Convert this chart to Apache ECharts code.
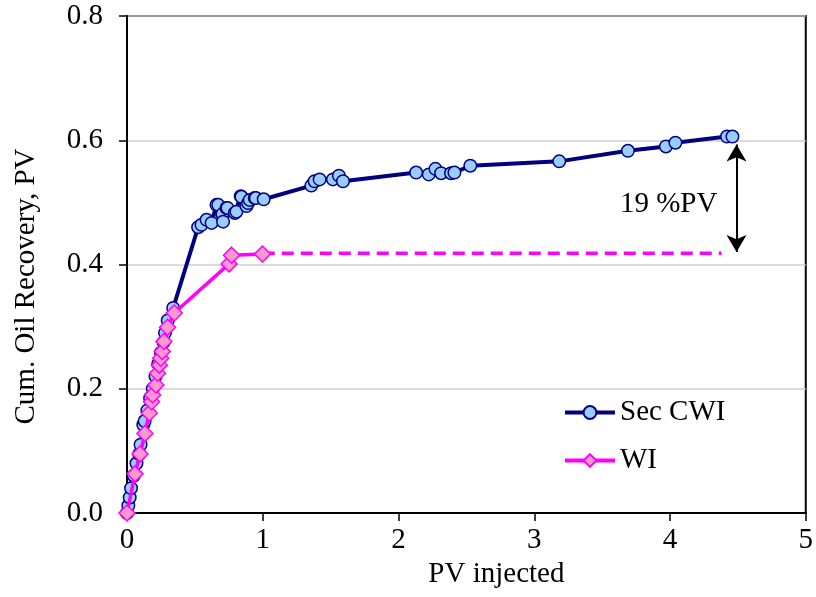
<!DOCTYPE html>
<html>
<head>
<meta charset="utf-8">
<script src="https://cdn.jsdelivr.net/npm/echarts@6/dist/echarts.min.js"></script>
<style>html,body{margin:0;padding:0;background:#fff}#c{width:816px;height:597px}</style>
</head>
<body>
<div id="c"></div>
<script>
const xTicks = [0, 1, 2, 3, 4, 5];
const yTicks = [0.0, 0.2, 0.4, 0.6, 0.8];
const xTitle = 'PV injected';
const yTitle = 'Cum. Oil Recovery, PV';
const seriesNames = ['Sec CWI', 'WI'];
const secCwiX = [0, 0.01, 0.02, 0.03, 0.05, 0.07, 0.09, 0.10, 0.12, 0.13, 0.15, 0.17, 0.19, 0.21, 0.23, 0.25, 0.27, 0.28, 0.30, 0.34,
  0.524, 0.549, 0.586, 0.623, 0.659, 0.672, 0.703, 0.708, 0.733, 0.74, 0.794, 0.806, 0.838, 0.843, 0.88, 0.892, 0.904, 0.941, 0.949, 1.007,
  1.358, 1.382, 1.419, 1.517, 1.561, 1.591,
  2.13, 2.223, 2.272, 2.314, 2.387, 2.412, 2.529, 3.184, 3.69, 3.97, 4.04, 4.42, 4.46];
const secCwiY = [0, 0.012, 0.025, 0.04, 0.06, 0.08, 0.095, 0.11, 0.142, 0.148, 0.165, 0.185, 0.2, 0.22, 0.24, 0.258, 0.275, 0.29, 0.31, 0.33,
  0.460, 0.464, 0.472, 0.467, 0.496, 0.496, 0.481, 0.469, 0.491, 0.491, 0.483, 0.485, 0.510, 0.509, 0.494, 0.499, 0.504, 0.507, 0.507, 0.505,
  0.527, 0.534, 0.537, 0.537, 0.543, 0.534,
  0.548, 0.545, 0.554, 0.547, 0.547, 0.548, 0.559, 0.566, 0.583, 0.590, 0.596, 0.606, 0.606];
const wiX = [0, 0.059, 0.096, 0.132, 0.164, 0.181, 0.189, 0.213, 0.225, 0.238, 0.248, 0.26, 0.272, 0.299, 0.348, 0.752, 0.77, 0.998];
const wiY = [0, 0.063, 0.095, 0.128, 0.161, 0.179, 0.19, 0.206, 0.225, 0.238, 0.249, 0.26, 0.276, 0.299, 0.322, 0.401, 0.415, 0.417];
const wiExtX = [1.0, 4.38];
const wiExtY = [0.418, 0.418];
const arrowX = 4.49;
const arrowY = [0.593, 0.42];
const annText = '19 %PV';
const annPos = [3.99, 0.496];

const zip = (a, b) => a.map((v, i) => [v, b[i]]);
const FONT = 'Liberation Serif';
const FS = 29;
const chart = echarts.init(document.getElementById('c'), null, {renderer: 'canvas'});
chart.setOption({
  animation: false,
  backgroundColor: '#fff',
  textStyle: {fontFamily: FONT, color: '#000'},
  grid: {left: 127, top: 16, right: 9, bottom: 84, show: true, borderColor: '#000', borderWidth: 2, backgroundColor: 'transparent'},
  legend: {
    orient: 'vertical', left: 563, top: 398, padding: 0, itemGap: 19,
    itemWidth: 50, itemHeight: 16,
    lineStyle: {width: 4},
    data: seriesNames,
    textStyle: {fontFamily: FONT, fontSize: FS, color: '#000'}
  },
  xAxis: {
    type: 'value', min: xTicks[0], max: xTicks[xTicks.length - 1], interval: 1,
    name: xTitle, nameLocation: 'middle', nameGap: 45,
    nameTextStyle: {fontFamily: FONT, fontSize: FS, color: '#000', padding: [0, 0, 0, 60]},
    axisLine: {show: true, lineStyle: {color: '#000', width: 2}},
    axisTick: {show: true, inside: false, length: 8, lineStyle: {color: '#000', width: 1.5}},
    axisLabel: {fontFamily: FONT, fontSize: FS, color: '#000', margin: 13},
    splitLine: {show: false}
  },
  yAxis: {
    type: 'value', min: yTicks[0], max: yTicks[yTicks.length - 1], interval: 0.2,
    name: yTitle, nameLocation: 'middle', nameGap: 86,
    nameTextStyle: {fontFamily: FONT, fontSize: FS, color: '#000', padding: [0, 44, 0, 0]},
    axisLine: {show: true, lineStyle: {color: '#000', width: 2}},
    axisTick: {show: true, inside: false, length: 8, lineStyle: {color: '#000', width: 1.5}},
    axisLabel: {fontFamily: FONT, fontSize: FS, color: '#000', margin: 24, formatter: v => v.toFixed(1)},
    splitLine: {show: true, lineStyle: {color: '#cfcfcf', width: 1.5}}
  },
  series: [
    {
      name: seriesNames[0], type: 'line', data: zip(secCwiX, secCwiY),
      symbol: 'circle', symbolSize: 12.5, showAllSymbol: true,
      lineStyle: {color: '#000080', width: 4},
      itemStyle: {color: '#99ccff', borderColor: '#000080', borderWidth: 1.5},
      z: 2
    },
    {
      name: seriesNames[1], type: 'line', data: zip(wiX, wiY),
      symbol: 'diamond', symbolSize: 16, showAllSymbol: true,
      lineStyle: {color: '#ff00ff', width: 3.5},
      itemStyle: {color: '#ff99cc', borderColor: '#ff00ff', borderWidth: 1.5},
      z: 3
    },
    {
      name: 'WI extension', type: 'line', data: zip(wiExtX, wiExtY),
      symbol: 'none', lineStyle: {color: '#ff00ff', width: 3.5, type: [12, 7]},
      z: 2,
      markLine: {
        silent: true, symbol: ['arrow', 'arrow'], symbolSize: [15, 17],
        label: {show: false},
        lineStyle: {color: '#000', width: 2, type: 'solid'},
        data: [[{coord: [arrowX, arrowY[0]]}, {coord: [arrowX, arrowY[1]]}]]
      },
      markPoint: {
        silent: true, symbol: 'circle', symbolSize: 0,
        label: {show: true, position: 'inside', formatter: annText, fontFamily: FONT, fontSize: FS, color: '#000'},
        data: [{coord: annPos}]
      }
    }
  ]
});
</script>
</body>
</html>
